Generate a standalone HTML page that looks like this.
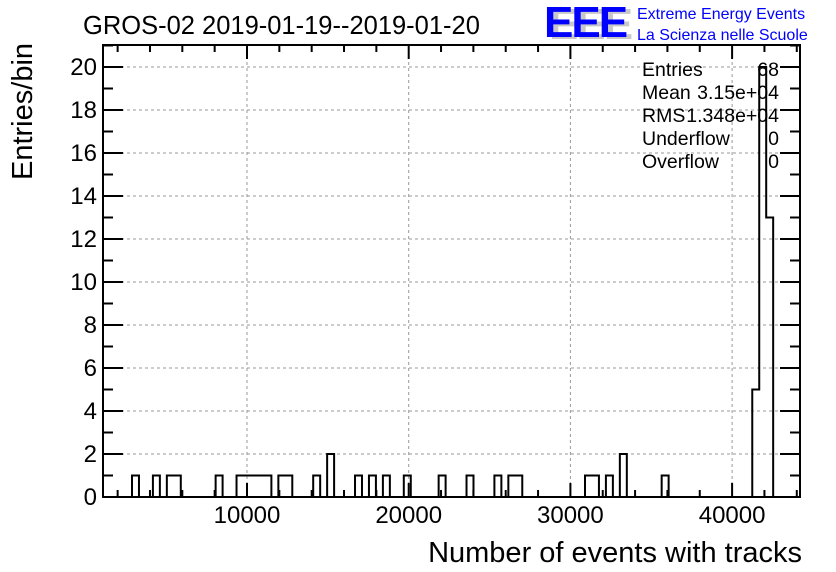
<!DOCTYPE html>
<html><head><meta charset="utf-8"><style>
body{margin:0;background:#fff;}
svg{display:block;font-family:"Liberation Sans",sans-serif;}
</style></head><body>
<svg id="c" width="836" height="572" viewBox="0 0 836 572">
<text x="83" y="34" font-size="25.5">GROS-02 2019-01-19--2019-01-20</text>
<g>
<text x="549" y="39" font-size="44" font-weight="bold" fill="#c8c8c8" letter-spacing="-2">EEE</text>
<text x="544" y="37" font-size="44" font-weight="bold" fill="#0000ff" letter-spacing="-2">EEE</text>
<text x="637" y="19" font-size="16" fill="#0000ff">Extreme Energy Events</text>
<text x="637" y="40" font-size="16" fill="#0000ff">La Scienza nelle Scuole</text>
</g>
<g id="grid"></g>
<path id="hist" fill="none" stroke="#000" stroke-width="2"/>
<rect x="103" y="45" width="697" height="452" fill="none" stroke="#000" stroke-width="2"/>
<g id="axes"></g>
<g font-size="19.5">
<text x="642" y="76">Entries</text><text x="779" y="76" text-anchor="end">68</text>
<text x="642" y="99">Mean</text><text x="779" y="99" text-anchor="end">3.15e+04</text>
<text x="642" y="122">RMS</text><text x="779" y="122" text-anchor="end">1.348e+04</text>
<text x="642" y="145">Underflow</text><text x="779" y="145" text-anchor="end">0</text>
<text x="642" y="168">Overflow</text><text x="779" y="168" text-anchor="end">0</text>
</g>
<text x="802" y="562" font-size="29" text-anchor="end">Number of events with tracks</text>
<text transform="translate(32,180) rotate(-90)" font-size="29">Entries/bin</text>
</svg>
<script>
const binStart = 2888;
const binWidth = 431;
const binIndex = [0,3,5,6,12,15,16,17,18,19,21,22,26,28,32,34,36,39,44,48,52,54,55,65,66,68,70,76,89,90,91];
const binCount = [1,1,1,1,1,1,1,1,1,1,1,1,1,2,1,1,1,1,1,1,1,1,1,1,1,1,2,1,5,20,13];
const xTicks = [10000,20000,30000,40000];
const yTicks = [0,2,4,6,8,10,12,14,16,18,20];
const X0=103,X1=800,Y0=497,Y1=45;
function xs(v){return 247+(v-10000)*0.01617;}
function ys(v){return 497-v*21.5;}
const NS="http://www.w3.org/2000/svg";
const grid=document.getElementById('grid'), axes=document.getElementById('axes');
function el(t,a,p){const e=document.createElementNS(NS,t);for(const k in a)e.setAttribute(k,a[k]);p.appendChild(e);return e;}
xTicks.forEach(v=>{const x=xs(v);
 const g=el('line',{x1:x,x2:x,y1:Y0,y2:Y1,stroke:'#999','stroke-dasharray':'3,3'},grid);
 
 
 const t=el('text',{x:x,y:523,'font-size':'24','text-anchor':'middle'},axes);t.textContent=v;
 
 
});
for(let v=2000;v<=44000;v+=2000){const x=xs(v);if(x<X0||x>X1)continue;const L=(v%10000===0)?14:7;
 el('line',{x1:x,x2:x,y1:Y0,y2:Y0-L,stroke:'#000','stroke-width':2},axes);
 el('line',{x1:x,x2:x,y1:Y1,y2:Y1+L,stroke:'#000','stroke-width':2},axes);}
yTicks.forEach(v=>{const y=ys(v);
 if(v>0){const g=el('line',{x1:X0,x2:X1,y1:y,y2:y,stroke:'#999','stroke-dasharray':'3,3'},grid);
 
 }
 const t=el('text',{x:97,y:y+8,'font-size':'24','text-anchor':'end'},axes);t.textContent=v;
 
 
});
for(let v=0;v<=21;v++){const y=ys(v);const L=v%2===0?20:10;
 el('line',{x1:X0,x2:X0+L,y1:y,y2:y,stroke:'#000','stroke-width':2},axes);
 el('line',{x1:X1,x2:X1-L,y1:y,y2:y,stroke:'#000','stroke-width':2},axes);}
const counts={};binIndex.forEach((k,i)=>counts[k]=binCount[i]);
const maxK=Math.max(...binIndex);
let d='M'+X0+','+Y0+' L'+xs(binStart)+','+Y0;
for(let k=0;k<=maxK+1;k++){const c=counts[k]||0;const xa=xs(binStart+k*binWidth),xb=xs(binStart+(k+1)*binWidth);
 d+=' L'+xa+','+ys(c)+' L'+xb+','+ys(c);}
d+=' L'+X1+','+Y0;
document.getElementById('hist').setAttribute('d',d);
</script>
</body></html>
